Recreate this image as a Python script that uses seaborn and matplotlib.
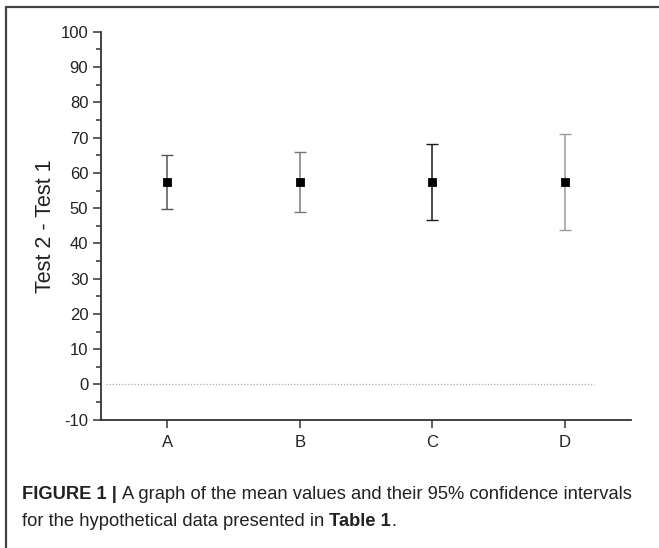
"""
Mean values with 95% confidence intervals (Figure 1 recreation).
"""
import numpy as np
import pandas as pd
import matplotlib
matplotlib.use('Agg')
import matplotlib.pyplot as plt
from matplotlib.lines import Line2D
from matplotlib.ticker import MultipleLocator
import seaborn as sns

# --- Data ---
groups = ['A', 'B', 'C', 'D']
means = [57.4, 57.4, 57.4, 57.4]
ci_low = [49.7, 48.8, 46.5, 43.7]
ci_high = [65.0, 65.9, 68.2, 71.0]
bar_colors = ['#555555', '#7a7a7a', '#1a1a1a', '#9a9a9a']
y_ticks = list(range(-10, 101, 10))

caption_line1 = [('FIGURE 1 | ', 'bold'),
                 ('A graph of the mean values and their 95% confidence intervals', 'normal')]
caption_line2 = [('for the hypothetical data presented in ', 'normal'),
                 ('Table 1', 'bold'), ('.', 'normal')]

df = pd.DataFrame({'group': groups, 'mean': means})

# --- Style ---
sns.set_theme(style='ticks')
plt.rcParams['font.family'] = ['Liberation Sans', 'DejaVu Sans']
plt.rcParams['axes.unicode_minus'] = False

fig = plt.figure(figsize=(6.59, 5.48), dpi=100)
ax = fig.add_axes([0.153, 0.234, 0.805, 0.708])

# error bars first, one colour per group
for i, g in enumerate(groups):
    m = means[i]
    ax.errorbar(i, m, yerr=[[m - ci_low[i]], [ci_high[i] - m]],
                fmt='none', ecolor=bar_colors[i], elinewidth=1.1,
                capsize=4.5, capthick=1.0, zorder=2)

sns.pointplot(data=df, x='group', y='mean', color='black', markers='s',
              linestyles='none', errorbar=None, markersize=5, ax=ax, zorder=3)

# dotted zero reference line
ax.plot([-0.46, 3.22], [0, 0], linestyle=(0, (1, 1.5)), color='#aaaaaa',
        linewidth=0.9, zorder=1)

ax.set_xlim(-0.5, 3.5)
ax.set_ylim(-10, 100)
ax.set_yticks(y_ticks)
ax.yaxis.set_minor_locator(MultipleLocator(5))
ax.set_xlabel('')
ax.set_ylabel('Test 2 - Test 1', fontsize=15.5, color='#222222', labelpad=3)

for side in ['top', 'right']:
    ax.spines[side].set_visible(False)
for side in ['left', 'bottom']:
    ax.spines[side].set_linewidth(1.3)
    ax.spines[side].set_color('#333333')

ax.tick_params(axis='y', which='major', direction='out', length=6, width=1.1,
               color='#333333', labelsize=12, labelcolor='#222222', pad=3)
ax.tick_params(axis='y', which='minor', direction='out', length=3.5, width=1.1,
               color='#333333')
ax.tick_params(axis='x', which='major', direction='out', length=6, width=1.1,
               color='#333333', labelsize=12, labelcolor='#222222', pad=5)

# --- frame around the figure (top and left edges) ---
fig.add_artist(Line2D([6 / 659, 1], [1 - 7 / 548, 1 - 7 / 548],
                      transform=fig.transFigure, color='#444444', linewidth=1.6))
fig.add_artist(Line2D([6 / 659, 6 / 659], [0, 1 - 7 / 548],
                      transform=fig.transFigure, color='#444444', linewidth=1.6))


# --- caption with mixed bold / normal pieces ---
def draw_line(pieces, x0, y0, size):
    renderer = fig.canvas.get_renderer()
    x = x0
    for txt, weight in pieces:
        t = fig.text(x, y0, txt, fontsize=size, fontweight=weight,
                     color='#222222', ha='left', va='baseline',
                     transform=fig.transFigure)
        bb = t.get_window_extent(renderer=renderer)
        x += bb.width / fig.bbox.width


draw_line(caption_line1, 22 / 659, 1 - 499 / 548, 13.2)
draw_line(caption_line2, 22 / 659, 1 - 526 / 548, 13.2)

plt.savefig('out.png', dpi=100)
plt.close()
